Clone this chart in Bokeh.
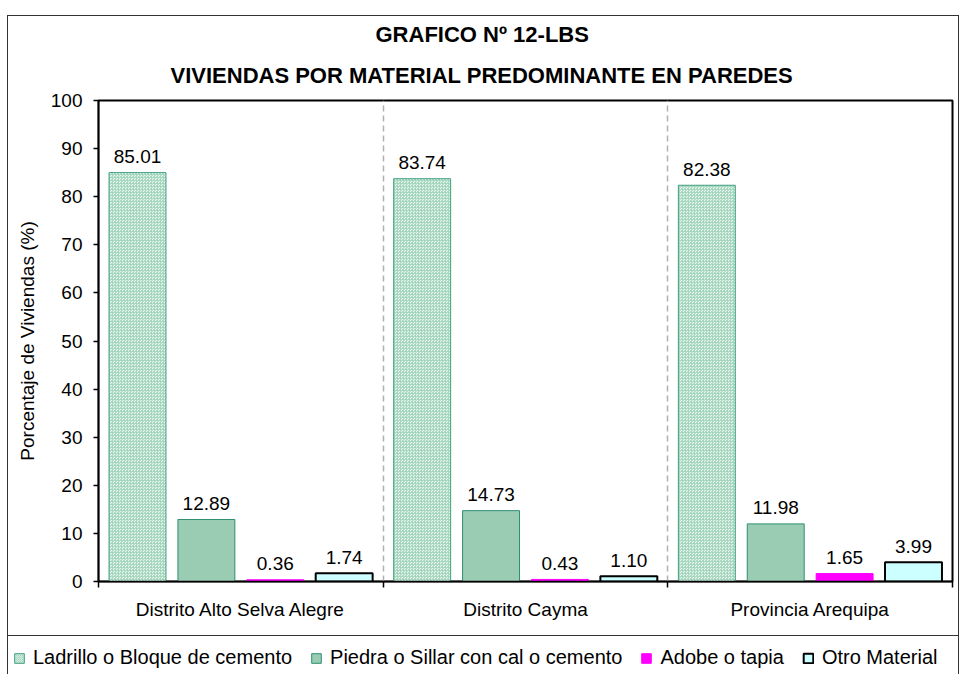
from bokeh.plotting import figure
from bokeh.models import ColumnDataSource, FixedTicker, Range1d, Title, Legend, LegendItem
from bokeh.transform import dodge
from bokeh.core.properties import value
from bokeh.embed import file_html
from bokeh.resources import INLINE

# ---- data ----
categories = ["Distrito Alto Selva Alegre", "Distrito Cayma", "Provincia Arequipa"]
series_names = ["Ladrillo o Bloque de cemento", "Piedra o Sillar con cal o cemento",
                "Adobe o tapia", "Otro Material"]
ladrillo = [85.01, 83.74, 82.38]
piedra = [12.89, 14.73, 11.98]
adobe = [0.36, 0.43, 1.65]
otro = [1.74, 1.10, 3.99]
y_ticks = list(range(0, 101, 10))
title_lines = ["GRAFICO Nº 12-LBS", "VIVIENDAS POR MATERIAL PREDOMINANTE EN PAREDES"]

FONT = "Liberation Sans"

xs = [i + 0.5 for i in range(len(categories))]
src = ColumnDataSource(dict(
    x=xs, cat=categories,
    ladrillo=ladrillo, piedra=piedra, adobe=adobe, otro=otro,
    l_ladrillo=[f"{v:.2f}" for v in ladrillo],
    l_piedra=[f"{v:.2f}" for v in piedra],
    l_adobe=[f"{v:.2f}" for v in adobe],
    l_otro=[f"{v:.2f}" for v in otro],
))

styles = [
    dict(key="ladrillo", fill_color="#eef8f2", line_color="#3f9f80", line_width=1,
         hatch_pattern="criss_cross", hatch_scale=3, hatch_weight=0.8, hatch_color="#9fd4bb"),
    dict(key="piedra", fill_color="#99ccb2", line_color="#2f8f72", line_width=1),
    dict(key="adobe", fill_color="#ff00ff", line_color="#ff00ff", line_width=1),
    dict(key="otro", fill_color="#ccffff", line_color="#000000", line_width=2),
]
offsets = [-0.363, -0.121, 0.121, 0.363]
BAR_W = 0.2

p = figure(width=952, height=621, x_range=Range1d(0, 3), y_range=Range1d(0, 100),
           toolbar_location=None, output_backend="svg",
           min_border_left=90, min_border_right=8, min_border_top=84, min_border_bottom=56)
p.margin = (15, 0, 0, 7)
p.styles = {"border": "1px solid #333333", "box-sizing": "border-box"}
p.background_fill_color = "white"
p.border_fill_color = "white"
p.outline_line_color = "black"
p.outline_line_width = 2

# titles: outer line (p.title) and inner line (added Title, closer to the frame)
p.title.text = title_lines[0]
p.title.align = "left"
p.title.offset = 277
p.title.standoff = 1
p.title.text_font = FONT
p.title.text_font_size = "22px"
p.title.text_font_style = "bold"
p.title.text_color = "black"
t2 = Title(text=title_lines[1], align="left", offset=72, standoff=26,
           text_font=FONT, text_font_size="22px", text_font_style="bold", text_color="black")
p.add_layout(t2, "above")

for st, off in zip(styles, offsets):
    k = st["key"]
    kw = {kk: vv for kk, vv in st.items() if kk != "key"}
    p.vbar(x=dodge("x", off), top=k, bottom=0, width=BAR_W, source=src, **kw)
    p.text(x=dodge("x", off), y=k, text="l_" + k, source=src,
           text_align="center", text_baseline="alphabetic", y_offset=-16,
           text_font=value(FONT), text_font_size="19px", text_color="black")

# axes
p.xaxis.ticker = FixedTicker(ticks=xs, minor_ticks=[0, 1, 2, 3])
p.xaxis.major_label_overrides = {x: c for x, c in zip(xs, categories)}
p.xaxis.major_tick_line_color = None
p.xaxis.minor_tick_line_color = "black"
p.xaxis.minor_tick_in = 0
p.xaxis.minor_tick_out = 6
p.xaxis.major_label_standoff = 11
p.yaxis.ticker = FixedTicker(ticks=y_ticks)
p.yaxis.minor_tick_line_color = None
p.yaxis.major_tick_in = 0
p.yaxis.major_tick_out = 5
p.yaxis.major_label_standoff = 11
p.yaxis.axis_label = "Porcentaje de Viviendas (%)"
p.yaxis.axis_label_standoff = 10
p.yaxis.axis_label_text_font_style = "normal"
p.yaxis.axis_label_text_font_size = "19px"
p.yaxis.axis_label_text_font = FONT
p.yaxis.axis_label_text_color = "black"
for ax in (p.xaxis, p.yaxis):
    ax.axis_line_color = "black"
    ax.axis_line_width = 1.5
    ax.major_label_text_font = FONT
    ax.major_label_text_font_size = "19px"
    ax.major_label_text_color = "black"
    ax.major_tick_line_width = 1.5
p.xaxis.minor_tick_line_width = 1.5

p.ygrid.grid_line_color = None
p.xgrid.ticker = FixedTicker(ticks=[1, 2])
p.xgrid.grid_line_color = "#b0b0b0"
p.xgrid.grid_line_dash = "6 4"
p.xgrid.grid_line_width = 1.5

# legend strip (separate root so its frame is not aligned with the chart's)
pl = figure(width=952, height=40, x_range=Range1d(0, 1), y_range=Range1d(0, 1),
            toolbar_location=None, output_backend="svg",
            x_axis_location=None, y_axis_location=None, min_border=0)
pl.margin = (0, 0, 0, 7)
pl.styles = {"border-left": "1px solid #333333", "border-right": "1px solid #333333",
             "box-sizing": "border-box"}
pl.grid.visible = False
pl.outline_line_color = None
pl.title.text = ""
items = []
for st, name in zip(styles, series_names):
    kw = {kk: vv for kk, vv in st.items() if kk != "key"}
    if kw.get("hatch_scale"):
        kw["hatch_scale"] = 2
    # swatch renderer lies outside the visible range, so only its legend swatch shows
    r = pl.vbar(x=[5], top=[1], width=0.1, **kw)
    items.append(LegendItem(label=name, renderers=[r]))
leg = Legend(items=items, orientation="horizontal", location=(2, 4),
             label_text_font=FONT, label_text_font_size="20px", label_text_color="black",
             glyph_width=12, glyph_height=12, label_standoff=8, spacing=18,
             padding=3, margin=0, border_line_alpha=0, background_fill_alpha=0)
pl.add_layout(leg)

open("out.html", "w").write(file_html([p, pl], INLINE))
